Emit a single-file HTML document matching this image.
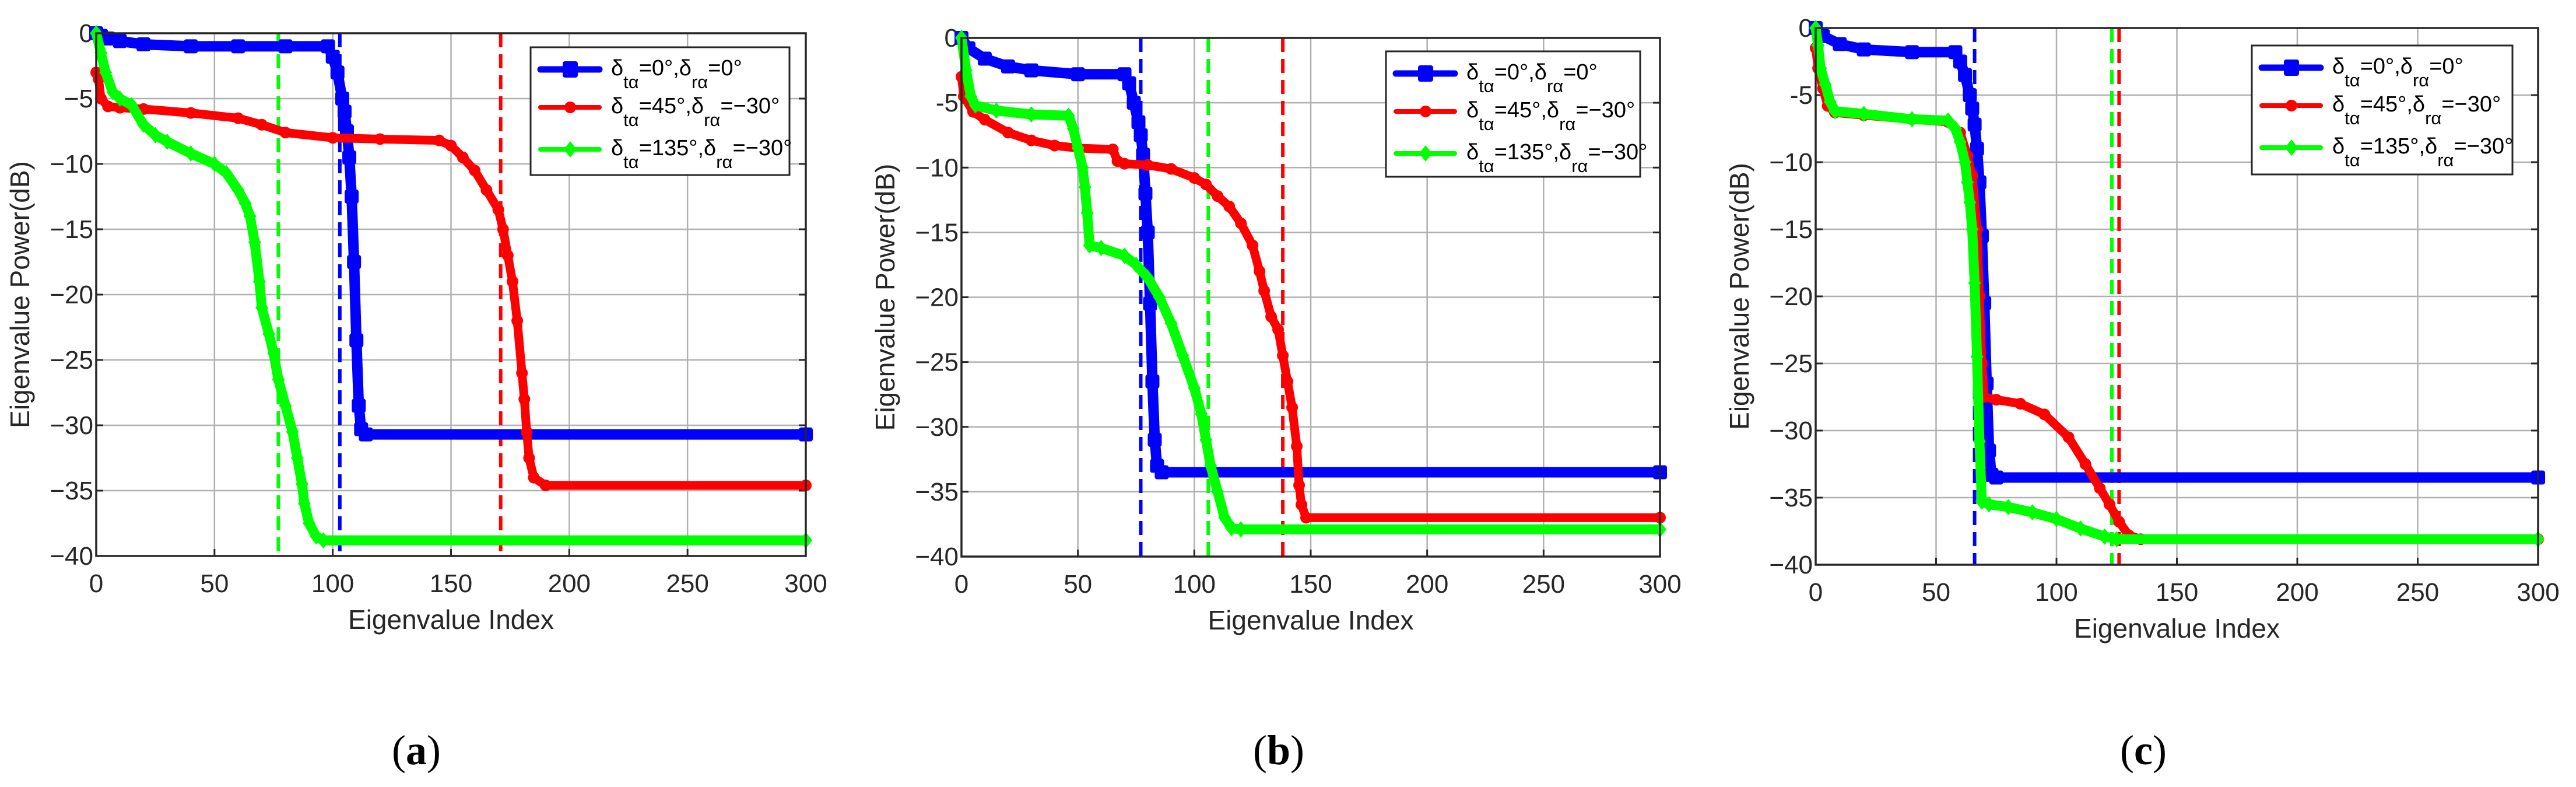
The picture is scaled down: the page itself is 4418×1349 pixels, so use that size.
<!DOCTYPE html>
<html><head><meta charset="utf-8">
<style>
html,body{margin:0;padding:0;background:#fff;}
#wrap{position:relative;width:4418px;height:1349px;overflow:hidden;background:#fff;}
svg text{font-family:"Liberation Sans",Arial,sans-serif;}
</style></head>
<body>
<div id="wrap">
<svg id="fig" width="4418" height="1349" viewBox="0 0 4418 1349" xmlns="http://www.w3.org/2000/svg"></svg>
</div>
<script>
// ---- data ----
const xTicks = [0,50,100,150,200,250,300];
const yTicks = [0,-5,-10,-15,-20,-25,-30,-35,-40];
const yTickLabelsA = ["0","−5","−10","−15","−20","−25","−30","−35","−40"];
const yTickLabelsB = ["0","-5","−10","−15","−20","−25","−30","−35","−40"];
const seriesNames = ["blue","red","green"];

const aBlueX=[0,2,5,10,20,40,60,80,98,100,102,104,105,106,107,108,109,110,111,112,114,300];
const aBlueY=[0,-0.2,-0.4,-0.6,-0.85,-1,-1,-1,-1,-1.8,-3,-5,-6,-7.5,-9.5,-12.5,-17.5,-23.5,-28.5,-30.3,-30.7,-30.7];
const aRedX=[0,1,2,5,10,20,40,60,70,80,100,120,145,150,155,160,165,170,172,174,176,178,180,181,182,183,185,190,300];
const aRedY=[-3,-3.5,-5,-5.6,-5.7,-5.8,-6.1,-6.5,-7,-7.6,-8,-8.1,-8.2,-8.6,-9.5,-10.5,-12,-13.5,-15,-17,-19,-22,-26,-28,-30.5,-32.5,-34,-34.6,-34.6];
const aGreenX=[0,2,4,7,10,15,20,25,30,40,50,55,60,63,65,67,69,70,73,75,77,80,83,85,87,88,90,93,96,300];
const aGreenY=[0,-1.5,-3,-4.5,-5,-5.5,-7,-7.8,-8.3,-9.2,-10,-10.7,-12,-13,-14,-16,-19,-21,-23,-24.5,-26.5,-28.5,-30.5,-32.5,-34.5,-36,-37.5,-38.5,-38.8,-38.8];
const aVlines=[77,103,171];

const bBlueX=[0,3,10,20,30,50,70,72,74,76,77,78,79,80,81,82,83,84,86,300];
const bBlueY=[0,-0.8,-1.6,-2.2,-2.5,-2.8,-2.8,-3.5,-5,-6.5,-7.5,-9,-12,-15,-20.5,-26.5,-31,-33,-33.5,-33.5];
const bRedX=[0,1,5,10,20,30,40,50,65,67,70,80,90,100,105,110,115,120,125,128,130,133,136,138,140,142,144,145,146,148,300];
const bRedY=[-3,-4.5,-5.7,-6.3,-7.3,-7.9,-8.3,-8.5,-8.6,-9.5,-9.7,-9.8,-10.1,-10.8,-11.3,-12.2,-13,-14.3,-16,-18,-19.5,-21.5,-22.5,-24.5,-26.5,-28.5,-31.5,-34.5,-36,-37,-37];
const bGreenX=[0,2,4,6,15,30,46,48,50,52,53,54,55,60,70,75,80,85,90,95,100,103,105,107,110,113,116,120,300];
const bGreenY=[0,-2.5,-4.5,-5.2,-5.6,-5.9,-6,-7,-8.5,-10,-11.5,-13.5,-16,-16.2,-16.8,-17.5,-18.5,-20,-22,-24.5,-27,-29,-31,-33,-35,-37,-37.8,-37.9,-37.9];
const bVlines=[106,77,138];

const cBlueX=[0,3,10,20,40,58,60,62,64,65,66,67,68,69,70,71,72,73,75,300];
const cBlueY=[0,-0.6,-1.2,-1.6,-1.8,-1.8,-2.5,-3.5,-5,-6,-7.2,-9,-11.5,-15.5,-20.5,-26.5,-31.5,-33.3,-33.5,-33.5];
const cRedX=[0,1,3,5,8,20,40,55,60,63,65,67,68,69,70,75,85,95,105,112,118,122,126,130,135,300];
const cRedY=[-1.5,-3,-4.5,-5.8,-6.3,-6.5,-6.8,-7,-7.8,-9.5,-11,-15,-20,-25,-27.5,-27.7,-28,-28.8,-30.5,-32.5,-34.3,-35.5,-36.8,-37.8,-38.1,-38.1];
const cGreenX=[0,1,2,4,6,8,20,40,55,58,60,62,63,64,65,66,67,68,69,72,80,90,100,110,120,125,300];
const cGreenY=[0,-1.3,-3,-4.2,-5.5,-6.2,-6.4,-6.8,-6.9,-7.5,-8.5,-10,-11.5,-13,-15,-19,-24.5,-30.8,-35.3,-35.5,-35.7,-36.1,-36.6,-37.3,-37.9,-38.1,-38.1];
const cVlines=[66,123,126];

// ---- layout ----
const NS="http://www.w3.org/2000/svg";
const svg=document.getElementById('fig');
const COL={blue:"#0000ff",red:"#ff0000",green:"#00ff00"};
const panels=[
 {id:"a",L:165,R:1382,T:57,B:953,leg:[910,81,444,219],sub:714,yl:yTickLabelsA,
  data:{blue:[aBlueX,aBlueY],red:[aRedX,aRedY],green:[aGreenX,aGreenY]},vl:aVlines},
 {id:"b",L:1649,R:2847,T:65,B:954,leg:[2377,88,436,215],sub:2193,yl:yTickLabelsB,
  data:{blue:[bBlueX,bBlueY],red:[bRedX,bRedY],green:[bGreenX,bGreenY]},vl:bVlines},
 {id:"c",L:3114,R:4353,T:48,B:968,leg:[3862,78,447,221],sub:3676,yl:yTickLabelsB,
  data:{blue:[cBlueX,cBlueY],red:[cRedX,cRedY],green:[cGreenX,cGreenY]},vl:cVlines}
];
function mk(tag,attrs,parent){const e=document.createElementNS(NS,tag);for(const k in attrs)e.setAttribute(k,attrs[k]);(parent||svg).appendChild(e);return e;}

panels.forEach(p=>{
 const g=mk('g',{});
 
 
 const sx=v=>p.L+(v-0)/300*(p.R-p.L);
 const sy=v=>p.T+(0-v)/40*(p.B-p.T);
 xTicks.forEach(t=>{
  const l=mk('line',{x1:sx(t),x2:sx(t),y1:p.T,y2:p.B,stroke:"#b0b0b0","stroke-width":2.5},g);
  
  
  const tk=mk('line',{x1:sx(t),x2:sx(t),y1:p.B,y2:p.B-12,stroke:"#262626","stroke-width":3},g);
  
  
  const tt=mk('text',{x:sx(t),y:p.B+62,"font-size":44,fill:"#262626","text-anchor":"middle"},g);
  tt.textContent=t;
  
  
 });
 yTicks.forEach((t,i)=>{
  const l=mk('line',{x1:p.L,x2:p.R,y1:sy(t),y2:sy(t),stroke:"#b0b0b0","stroke-width":2.5},g);
  
  
  const tk=mk('line',{x1:p.L,x2:p.L+12,y1:sy(t),y2:sy(t),stroke:"#262626","stroke-width":3},g);
  
  
  const tk2=mk('line',{x1:p.R,x2:p.R-12,y1:sy(t),y2:sy(t),stroke:"#262626","stroke-width":3},g);
  
  
  const tt=mk('text',{x:p.L-5,y:sy(t)+15,"font-size":44,fill:"#262626","text-anchor":"end"},g);
  tt.textContent=p.yl[i];
  
  
 });
 const orderCols = p.id==="c"?[COL.blue,COL.green,COL.red]:[COL.green,COL.blue,COL.red];
 p.vl.forEach((v,i)=>{
  const l=mk('line',{x1:sx(v),x2:sx(v),y1:p.T,y2:p.B,stroke:orderCols[i],"stroke-width":6,"stroke-dasharray":"24 12"},g);
  
  
 });
 const widths={blue:18,red:15,green:17};
 ["blue","red","green"].forEach(s=>{
  const [xs,ys]=p.data[s];
  const pts=xs.map((x,i)=>sx(x)+","+sy(ys[i])).join(" ");
  const pl=mk('polyline',{points:pts,fill:"none",stroke:COL[s],"stroke-width":widths[s],"stroke-linejoin":"round","stroke-linecap":"round"},g);
  
  
  xs.forEach((x,i)=>{
   let m;
   const cx=sx(x),cy=sy(ys[i]);
   if(s==="blue") m=mk('rect',{x:cx-12,y:cy-12,width:24,height:24,rx:4,fill:COL[s]},g);
   else if(s==="red") m=mk('circle',{cx:cx,cy:cy,r:10,fill:COL[s]},g);
   else m=mk('polygon',{points:`${cx},${cy-14} ${cx+11},${cy} ${cx},${cy+14} ${cx-11},${cy}`,fill:COL[s]},g);
   
   
  });
 });
 const box=mk('rect',{x:p.L,y:p.T,width:p.R-p.L,height:p.B-p.T,fill:"none",stroke:"#262626","stroke-width":3.5},g);
 
 
 const [lx,ly,lw,lh]=p.leg;
 const lg=mk('g',{},g);
 
 
 mk('rect',{x:lx,y:ly,width:lw,height:lh,fill:"#fff",stroke:"#262626","stroke-width":3},lg);
 const labels=[["0°","0°"],["45°","−30°"],["135°","−30°"]];
 const offs=[38,103,175];
 ["blue","red","green"].forEach((s,i)=>{
  const y=ly+offs[i];
  const ln=mk('line',{x1:lx+17,x2:lx+118,y1:y,y2:y,stroke:COL[s],"stroke-width":s==="blue"?11:8,"stroke-linecap":"round"},lg);
  
  
  const mx=lx+68;
  if(s==="blue") mk('rect',{x:mx-13,y:y-14,width:26,height:28,rx:4,fill:COL[s]},lg);
  else if(s==="red") mk('circle',{cx:mx,cy:y,r:10,fill:COL[s]},lg);
  else mk('polygon',{points:`${mx},${y-14} ${mx+11},${y} ${mx},${y+14} ${mx-11},${y}`,fill:COL[s]},lg);
  const t=mk('text',{x:lx+138,y:y+10,"font-size":38,fill:"#000"},lg);
  
  
  t.innerHTML=`δ<tspan font-size="31" dy="22">tα</tspan><tspan dy="-22">=${labels[i][0]},δ</tspan><tspan font-size="31" dy="22">rα</tspan><tspan dy="-22">=${labels[i][1]}</tspan>`;
 });
 const cx=(p.L+p.R)/2;
 const xt=mk('text',{x:cx,y:p.B+125,"font-size":46,fill:"#262626","text-anchor":"middle"},g);
 xt.textContent="Eigenvalue Index";
 
 
 const ycx=p.L-115, ycy=(p.T+p.B)/2;
 const yt=mk('text',{x:ycx,y:ycy,"font-size":46,fill:"#262626","text-anchor":"middle",transform:`rotate(-90 ${ycx} ${ycy})`},g);
 yt.textContent="Eigenvalue Power(dB)";
 
 
 const st=mk('text',{x:p.sub,y:1310,"font-size":72,fill:"#000","text-anchor":"middle",style:"font-family:'Liberation Serif',serif"},g);
 st.innerHTML=`(<tspan font-weight="bold">${p.id}</tspan>)`;
 
 
});
</script>
</body></html>
